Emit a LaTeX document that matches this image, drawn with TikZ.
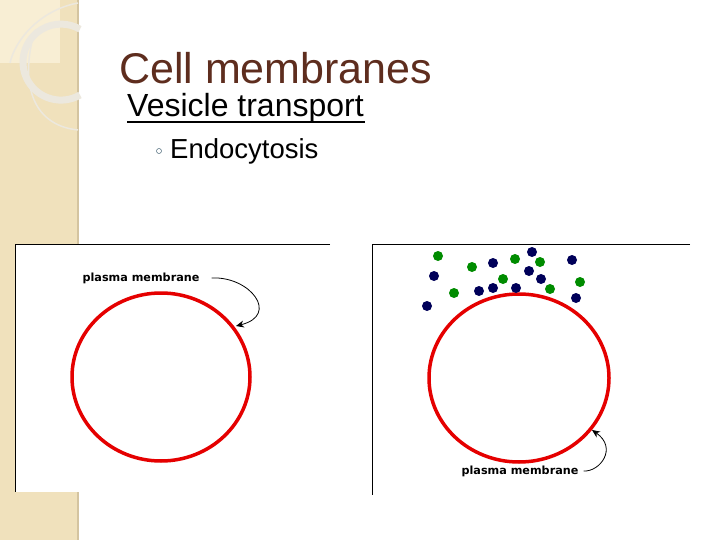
\documentclass[tikz,border=0pt]{standalone}
\usepackage{fontspec}
\setmainfont{Liberation Sans}
\newfontfamily\lblfont{DejaVu Sans}
\usetikzlibrary{arrows.meta}
\definecolor{beige}{RGB}{240,225,188}
\definecolor{beigel}{RGB}{248,238,212}
\definecolor{beiged}{RGB}{212,196,160}
\definecolor{deco}{RGB}{236,232,222}
\begin{document}
\begin{tikzpicture}[x=1pt,y=-1pt,
  memb/.style={draw=red!90!black,line width=3.5pt},
  panel/.style={draw=black,line width=0.8pt},
  gdot/.style={circle,fill=green!55!black,inner sep=0pt,minimum size=10pt},
  bdot/.style={circle,fill=blue!35!black,inner sep=0pt,minimum size=10pt},
  lbl/.style={font=\lblfont\bfseries\fontsize{11.2}{13}\selectfont,inner sep=0pt},
  arr/.style={-{Stealth[length=8pt,width=7pt]},line width=0.8pt}]
\useasboundingbox (0,0) rectangle (720,540);
\fill[white] (0,0) rectangle (720,540);
% decorative strip
\fill[beige] (0,0) rectangle (78,540);
\draw[beiged,line width=1.5pt] (78,0) -- (78,540);
\fill[beigel] (0,0) rectangle (60,63);
\draw[deco,line width=1.5pt] (78,3) .. controls (40,10) and (15,40) .. (10,63);
\draw[deco,line width=7pt] (80,95) arc[start angle=60,end angle=300,radius=38];
\draw[deco,line width=1.5pt] (35,30) .. controls (20,80) and (30,125) .. (78,130);
% titles
\node[anchor=west,text={rgb,255:red,94;green,45;blue,30},font=\fontsize{43}{46}\selectfont,inner sep=0pt] (title) at (119,68) {Cell membranes};
\node[anchor=west,font=\fontsize{32}{36}\selectfont,inner sep=0pt] (sub) at (127,108) {Vesicle transport};
\draw[line width=1.5pt] (127,122) -- (365,122);
\node[anchor=west,font=\fontsize{27.5}{30}\selectfont,inner sep=0pt] (endo) at (170,151) {Endocytosis};
\node[circle,draw=black!60!cyan,inner sep=0pt,minimum size=5pt,line width=0.5pt] (bul) at (159,151) {};
% left panel
\fill[white] (15,244) rectangle (330,492);
\draw[panel] (330,244) -- (15,244) -- (15,492);
\draw[memb] (161,377) ellipse[x radius=89,y radius=84];
\node[lbl] (pm1) at (141,278) {plasma membrane};
\coordinate (t1) at (236,326);
\draw[arr] (pm1.east) ++(12,0) .. controls (250,276) and (280,315) .. (t1);
% right panel
\draw[panel] (690,244) -- (372,244) -- (372,495);
\draw[memb] (519,378) ellipse[x radius=90,y radius=84];
\node[lbl] (pm2) at (520,471) {plasma membrane};
\coordinate (t2) at (592,430);
\draw[arr] (pm2.east) ++(5,0) .. controls (600,472) and (618,448) .. (t2);
% molecules
\foreach \x/\y [count=\i] in {438/256,472/267,515/259,540/262,503/279,454/293,550/289,580/282}
  \node[gdot] (g\i) at (\x,\y) {};
\foreach \x/\y [count=\i] in {532/252,493/263,572/260,434/276,529/271,541/279,479/291,493/288,516/288,576/298,427/306}
  \node[bdot] (b\i) at (\x,\y) {};
\end{tikzpicture}
\end{document}
